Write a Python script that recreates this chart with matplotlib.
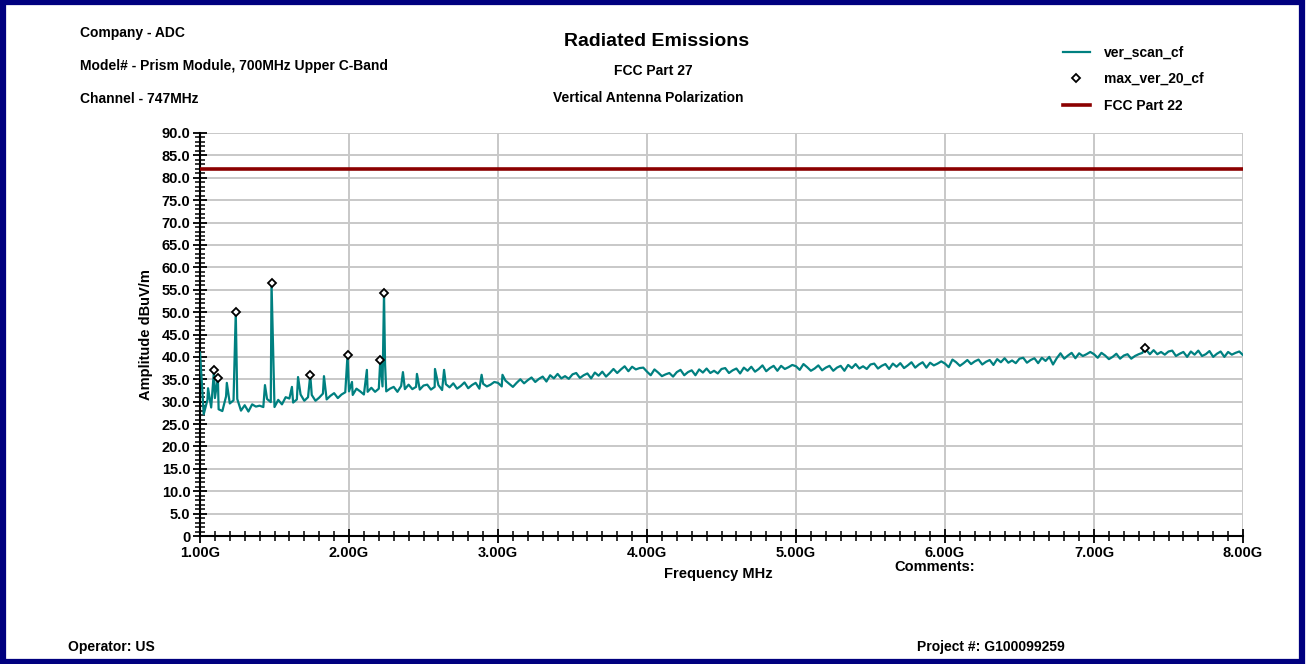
import numpy as np
import matplotlib
matplotlib.use("Agg")
import matplotlib.pyplot as plt
from matplotlib.patches import Rectangle
from matplotlib.ticker import MultipleLocator, FuncFormatter

plt.rcParams['font.family'] = ['Liberation Sans', 'DejaVu Sans']
plt.rcParams['font.weight'] = 'bold'

# --- scan data (GHz / dBuV/m), 25 MHz steps from 1.0 to 8.0 GHz ---
scan_start, scan_step = 1.0, 0.025
scan_level = [
    # 1.000 - 1.975
    41.0, 27.2, 30.4, 28.7, 30.8, 28.3, 27.9, 31.2, 29.6, 30.3,
    30.6, 28.0, 29.2, 27.8, 29.4, 28.9, 29.1, 28.8, 30.6, 29.9,
    28.8, 30.4, 29.4, 31.0, 30.7, 29.8, 30.5, 31.6, 30.2, 31.0,
    31.5, 30.2, 30.9, 31.8, 30.5, 31.3, 31.9, 30.8, 31.6, 32.1,
    # 2.000 - 2.975
    32.3, 31.5, 32.9, 32.3, 31.6, 32.2, 33.1, 32.2, 32.9, 33.4,
    32.3, 32.9, 33.3, 32.2, 33.5, 32.8, 33.8, 32.8, 33.3, 32.7,
    33.6, 33.8, 32.7, 33.3, 33.7, 32.6, 33.9, 33.2, 34.1, 32.9,
    33.5, 34.3, 33.0, 33.7, 34.2, 32.9, 34.0, 33.4, 33.8, 34.4,
    # 3.000 - 3.975
    34.2, 33.4, 34.7, 34.0, 33.3, 34.2, 35.0, 34.1, 34.8, 35.4,
    34.4, 35.1, 35.6, 34.5, 35.9, 35.2, 36.2, 35.2, 35.7, 35.1,
    36.1, 36.4, 35.3, 35.9, 36.3, 35.2, 36.5, 35.8, 36.7, 35.6,
    36.4, 37.3, 36.4, 37.2, 37.9, 36.8, 37.8, 37.2, 37.5, 37.6,
    # 4.000 - 4.975
    36.7, 35.9, 37.2, 36.5, 35.7, 36.1, 36.4, 35.6, 36.6, 37.1,
    35.9, 36.6, 37.0, 35.9, 37.2, 36.5, 37.4, 36.4, 36.9, 36.3,
    37.3, 37.5, 36.4, 37.0, 37.4, 36.3, 37.6, 36.9, 37.8, 36.7,
    37.3, 38.1, 36.8, 37.5, 38.0, 36.9, 38.0, 37.3, 37.7, 38.2,
    # 5.000 - 5.975
    37.9, 37.1, 38.4, 37.7, 36.9, 37.4, 38.1, 37.0, 37.6, 38.0,
    36.9, 37.6, 38.0, 36.9, 38.2, 37.5, 38.4, 37.4, 37.9, 37.3,
    38.3, 38.5, 37.4, 38.0, 38.4, 37.3, 38.5, 37.8, 38.6, 37.5,
    38.1, 38.8, 37.6, 38.3, 38.8, 37.6, 38.7, 38.1, 38.5, 39.0,
    # 6.000 - 6.975
    38.5, 37.7, 39.4, 38.8, 38.0, 38.6, 39.3, 38.4, 39.0, 39.4,
    38.3, 38.9, 39.3, 38.2, 39.5, 38.8, 39.7, 38.7, 39.2, 38.6,
    39.6, 39.8, 38.7, 39.3, 39.7, 38.6, 39.8, 39.1, 40.0, 38.3,
    39.7, 40.8, 39.6, 40.3, 40.9, 39.7, 40.8, 40.2, 40.6, 41.1,
    # 7.000 - 7.975
    40.6, 39.8, 40.9, 40.3, 39.5, 40.0, 40.7, 39.6, 40.3, 40.6,
    39.6, 40.2, 40.6, 40.9, 41.6, 40.6, 41.5, 40.6, 41.1, 40.5,
    41.2, 41.4, 40.2, 40.7, 41.1, 40.0, 41.2, 40.5, 41.4, 40.2,
    40.6, 41.3, 40.0, 40.7, 41.2, 40.0, 41.1, 40.5, 40.9, 41.2,
    # 8.000
    40.4,
]

# narrow spurs in the scan that were not picked as maxima
spur_freq = [1.054, 1.18, 1.436, 1.617, 1.658, 1.832, 2.02, 2.12, 2.242,
             2.362, 2.456, 2.577, 2.638, 2.89, 3.03]
spur_level = [33.0, 34.2, 33.7, 33.3, 35.5, 35.7, 34.4, 37.1, 38.4,
              36.6, 36.2, 37.3, 37.1, 36.0, 36.0]

# max_ver_20_cf peaks
peak_freq = [1.094, 1.12, 1.24, 1.48, 1.74, 1.99, 2.21, 2.235, 7.34]
peak_level = [37.0, 35.3, 50.0, 56.6, 36.0, 40.4, 39.3, 54.3, 42.0]

limit_level = 82.0  # FCC Part 22

scan_freq = scan_start + scan_step * np.arange(len(scan_level))
trace_f = np.concatenate([scan_freq, spur_freq, peak_freq])
trace_v = np.concatenate([scan_level, spur_level, peak_level])
order = np.argsort(trace_f, kind="stable")
trace_f, trace_v = trace_f[order], trace_v[order]

fig = plt.figure(figsize=(13.07, 6.64), dpi=100)
fig.patch.set_facecolor("white")
fig.patches.append(Rectangle((0.002, 0.003), 0.994, 0.994, transform=fig.transFigure,
                             fill=False, edgecolor="#00007f", linewidth=4.5))

ax = fig.add_axes([200 / 1307, 1 - 536 / 664, 1043 / 1307, 403 / 664])
ax.plot(trace_f, trace_v, color="#008080", lw=1.6, label="ver_scan_cf", zorder=3)
ax.plot(peak_freq, peak_level, ls="none", marker="D", ms=4.5, mfc="white",
        mec="black", mew=1.3, label="max_ver_20_cf", zorder=4)
ax.axhline(limit_level, color="#8b0000", lw=2.6, label="FCC Part 22", zorder=3)

ax.set_xlim(1.0, 8.0)
ax.set_ylim(0, 90)
ax.xaxis.set_major_locator(MultipleLocator(1.0))
ax.xaxis.set_minor_locator(MultipleLocator(0.1))
ax.yaxis.set_major_locator(MultipleLocator(5))
ax.yaxis.set_minor_locator(MultipleLocator(1))
ax.xaxis.set_major_formatter(FuncFormatter(lambda v, p: f"{v:.2f}G"))
ax.yaxis.set_major_formatter(FuncFormatter(lambda v, p: "0" if v == 0 else f"{v:.1f}"))
ax.tick_params(which="major", direction="inout", length=10, width=1.3, labelsize=10.5, pad=2)
ax.tick_params(which="minor", direction="inout", length=7, width=1.1)
ax.grid(True, which="major", color="#c8c8c8", lw=1.4, zorder=0)
for s in ("top", "right"):
    ax.spines[s].set_visible(False)
for s in ("left", "bottom"):
    ax.spines[s].set_linewidth(1.5)

ax.set_ylabel("Amplitude dBuV/m", fontsize=10.5, fontweight="bold", labelpad=6)
fig.text(718 / 1307, 1 - 574 / 664, "Frequency MHz", ha="center", va="center", fontsize=10.5)
fig.text(935 / 1307, 1 - 567 / 664, "Comments:", ha="center", va="center", fontsize=10.5)

# header block
fig.text(80 / 1307, 1 - 33 / 664, "Company - ADC", ha="left", va="center", fontsize=10)
fig.text(80 / 1307, 1 - 66 / 664, "Model# - Prism Module, 700MHz Upper C-Band",
         ha="left", va="center", fontsize=10)
fig.text(80 / 1307, 1 - 99 / 664, "Channel - 747MHz", ha="left", va="center", fontsize=10)
fig.text(657 / 1307, 1 - 41 / 664, "Radiated Emissions", ha="center", va="center", fontsize=14)
fig.text(653 / 1307, 1 - 71 / 664, "FCC Part 27", ha="center", va="center", fontsize=10)
fig.text(648 / 1307, 1 - 98 / 664, "Vertical Antenna Polarization", ha="center", va="center", fontsize=10)

fig.legend(loc="upper left", bbox_to_anchor=(1050 / 1307, 1 - 33 / 664), frameon=False,
           fontsize=10, handlelength=2.0, labelspacing=0.9, handletextpad=1.0)

fig.text(68 / 1307, 1 - 647 / 664, "Operator: US", ha="left", va="center", fontsize=10)
fig.text(917 / 1307, 1 - 647 / 664, "Project #: G100099259", ha="left", va="center", fontsize=10)

fig.savefig("out.png", dpi=100)
